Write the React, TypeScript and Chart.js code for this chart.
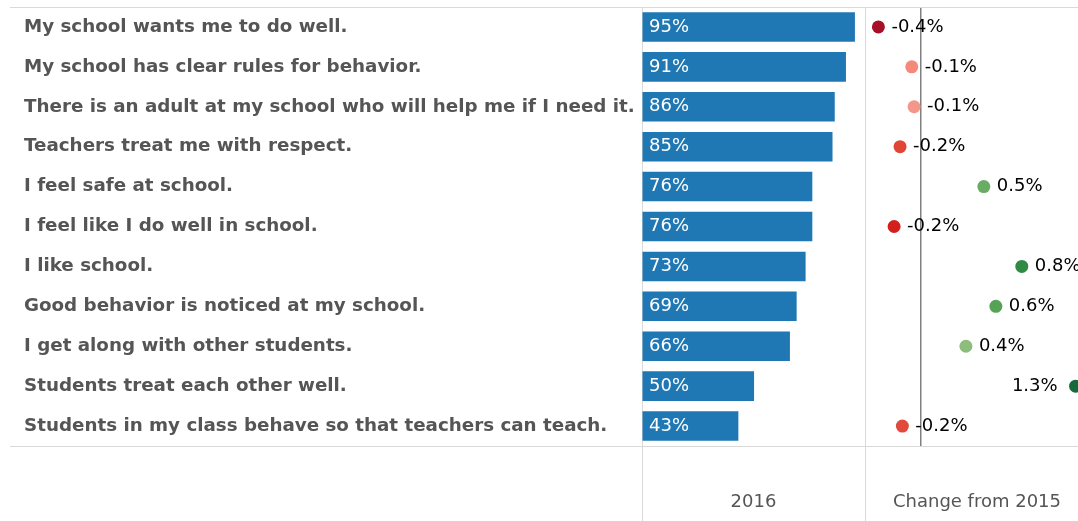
import React, { useEffect, useRef } from 'react';
import { Chart, registerables } from 'chart.js';

Chart.register(...registerables);

const categories = [
  'My school wants me to do well.',
  'My school has clear rules for behavior.',
  'There is an adult at my school who will help me if I need it.',
  'Teachers treat me with respect.',
  'I feel safe at school.',
  'I feel like I do well in school.',
  'I like school.',
  'Good behavior is noticed at my school.',
  'I get along with other students.',
  'Students treat each other well.',
  'Students in my class behave so that teachers can teach.',
];

const values2016 = [95, 91, 86, 85, 76, 76, 73, 69, 66, 50, 43];

const changeValues = [-0.35, -0.076, -0.057, -0.172, 0.516, -0.221, 0.828, 0.615, 0.369, 1.27, -0.153];
const changeLabels = ['-0.4%', '-0.1%', '-0.1%', '-0.2%', '0.5%', '-0.2%', '0.8%', '0.6%', '0.4%', '1.3%', '-0.2%'];
const changeColors = [
  '#a50f28', '#f68a7a', '#f5968a', '#e04536', '#6aac64', '#d41f1f',
  '#2f8a43', '#56a356', '#8dbd7c', '#15693a', '#e0493c',
];

const barTitle = '2016';
const changeTitle = 'Change from 2015';

const FONT = '"DejaVu Sans", "Liberation Sans", Arial, sans-serif';
const GRID = '#d9d9d9';
const TEXT_GRAY = '#555555';
const BAR_COLOR = '#1f77b4';

const frameColor = (c: any) => (c.index === 0 || c.index === undefined ? GRID : 'rgba(0,0,0,0)');

const barLabelPlugin = {
  id: 'barLabels',
  afterDatasetsDraw(chart: any) {
    const ctx = chart.ctx;
    const meta = chart.getDatasetMeta(0);
    const x0 = chart.scales.x.getPixelForValue(0);
    ctx.save();
    ctx.font = `18px ${FONT}`;
    ctx.fillStyle = '#ffffff';
    ctx.textBaseline = 'middle';
    ctx.textAlign = 'left';
    meta.data.forEach((el: any, i: number) => {
      ctx.fillText(`${values2016[i]}%`, x0 + 7, el.y);
    });
    ctx.restore();
  },
};

const changeLabelPlugin = {
  id: 'changeLabels',
  afterDatasetsDraw(chart: any) {
    const ctx = chart.ctx;
    const meta = chart.getDatasetMeta(0);
    ctx.save();
    ctx.font = `18px ${FONT}`;
    ctx.fillStyle = '#000000';
    ctx.textBaseline = 'middle';
    meta.data.forEach((el: any, i: number) => {
      const txt = changeLabels[i];
      const w = ctx.measureText(txt).width;
      if (el.x + 13 + w > chart.chartArea.right) {
        ctx.textAlign = 'right';
        ctx.fillText(txt, el.x - 18, el.y);
      } else {
        ctx.textAlign = 'left';
        ctx.fillText(txt, el.x + 13, el.y);
      }
    });
    ctx.restore();
  },
};

export default function App() {
  const barRef = useRef<HTMLCanvasElement>(null);
  const dotRef = useRef<HTMLCanvasElement>(null);

  useEffect(() => {
    const barChart = new Chart(barRef.current as HTMLCanvasElement, {
      type: 'bar',
      data: {
        labels: categories,
        datasets: [
          {
            data: values2016,
            backgroundColor: BAR_COLOR,
            barPercentage: 0.74,
            categoryPercentage: 1,
          },
        ],
      },
      options: {
        indexAxis: 'y',
        responsive: false,
        animation: false,
        layout: { autoPadding: false, padding: { left: 14, top: 2, right: 2, bottom: 0 } },
        plugins: { legend: { display: false }, tooltip: { enabled: false } },
        scales: {
          x: {
            type: 'linear',
            min: 0,
            max: 99.5,
            position: 'bottom',
            afterBuildTicks: (s: any) => {
              s.ticks = [{ value: 0 }, { value: 99.5 }];
            },
            afterFit: (s: any) => {
              s.height = 75;
            },
            ticks: { display: false },
            grid: { color: GRID, tickColor: GRID, tickLength: 75, drawTicks: true, lineWidth: 1 },
            border: { display: false },
            title: {
              display: true,
              text: barTitle,
              color: TEXT_GRAY,
              font: { family: FONT, size: 18 },
              padding: { top: 0, bottom: 8 },
            },
          },
          y: {
            type: 'category',
            afterFit: (s: any) => {
              s.width = 618;
              s.paddingTop = 0;
              s.paddingBottom = 0;
            },
            ticks: {
              color: TEXT_GRAY,
              font: { family: FONT, size: 18.3, weight: 'bold' },
              crossAlign: 'far',
              padding: 0,
            },
            grid: { offset: true, color: frameColor, tickColor: frameColor, tickLength: 632, drawTicks: true },
            border: { display: false },
          },
        },
      } as any,
      plugins: [barLabelPlugin],
    });

    const dotChart = new Chart(dotRef.current as HTMLCanvasElement, {
      type: 'line',
      data: {
        labels: categories,
        datasets: [
          {
            data: changeValues,
            showLine: false,
            pointRadius: 6.5,
            pointHoverRadius: 6.5,
            pointBackgroundColor: changeColors,
            pointBorderColor: changeColors,
            pointBorderWidth: 0,
          },
        ],
      },
      options: {
        indexAxis: 'y',
        responsive: false,
        animation: false,
        layout: { autoPadding: false, padding: { left: 0, top: 2, right: 0, bottom: 0 } },
        plugins: { legend: { display: false }, tooltip: { enabled: false } },
        scales: {
          x: {
            type: 'linear',
            min: -0.46,
            max: 1.38,
            position: 'bottom',
            afterBuildTicks: (s: any) => {
              s.ticks = [{ value: 0 }];
            },
            afterFit: (s: any) => {
              s.height = 75;
            },
            ticks: { display: false },
            grid: { color: '#808080', lineWidth: 1.5, drawTicks: false },
            border: { display: false },
            title: {
              display: true,
              text: changeTitle,
              color: TEXT_GRAY,
              font: { family: FONT, size: 18 },
              padding: { top: 0, bottom: 8 },
            },
          },
          y: {
            type: 'category',
            offset: true,
            afterFit: (s: any) => {
              s.width = 0;
              s.paddingTop = 0;
              s.paddingBottom = 0;
            },
            ticks: { display: false },
            grid: { offset: true, color: frameColor, drawTicks: false },
            border: { display: false },
          },
        },
      } as any,
      plugins: [changeLabelPlugin],
    });

    return () => {
      barChart.destroy();
      dotChart.destroy();
    };
  }, []);

  return (
    <div
      style={{
        position: 'absolute',
        left: 0,
        top: 0,
        width: 1078,
        height: 521,
        overflow: 'hidden',
        background: '#ffffff',
      }}
    >
      <canvas
        ref={barRef}
        width={857}
        height={516}
        style={{ position: 'absolute', left: 10, top: 5, width: 857, height: 516 }}
      />
      <canvas
        ref={dotRef}
        width={224}
        height={516}
        style={{ position: 'absolute', left: 865, top: 5, width: 224, height: 516 }}
      />
    </div>
  );
}
